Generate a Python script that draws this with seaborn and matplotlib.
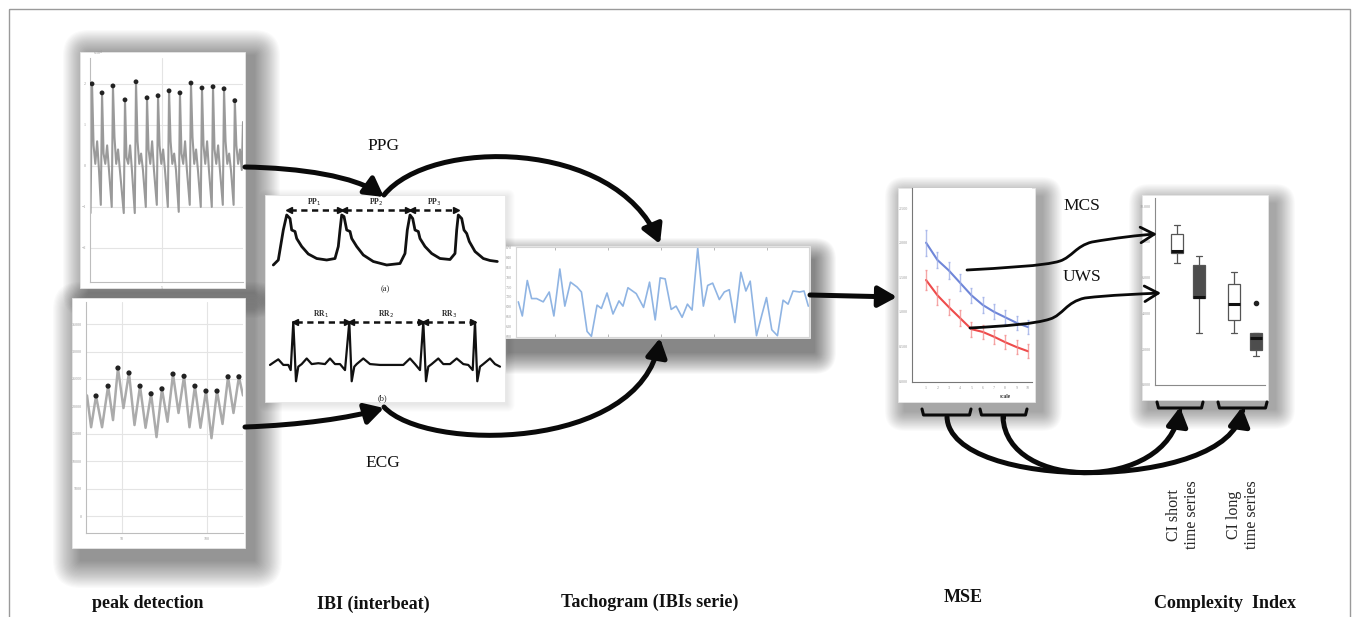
import numpy as np
import pandas as pd
import matplotlib
matplotlib.use("Agg")
import matplotlib.pyplot as plt
import seaborn as sns
from matplotlib.patches import Rectangle, FancyArrowPatch, FancyBboxPatch
from matplotlib.path import Path

W, H = 1358, 617

# ------------------------------------------------------------------ data
# Panel 1 (peak detection, PPG raw): detected peaks, notch levels, troughs
ppg_peak_t = [0.2, 1.18, 2.25, 3.43, 4.51, 5.59, 6.67, 7.75, 8.82, 9.9, 10.98, 12.06, 13.14, 14.2]
ppg_peak_v = [2.0, 1.78, 1.95, 1.61, 2.05, 1.66, 1.71, 1.83, 1.78, 2.02, 1.90, 1.93, 1.88, 1.59]
ppg_notch_v = [0.5, 0.3, 0.7, 0.2, 0.6, 0.4, 0.5, 0.6, 0.3, 0.7, 0.5, 0.4, 0.6, 0.5]
ppg_hump_v = [0.6, 0.5, 0.4, 0.5, 0.3, 0.6, 0.4, 0.3, 0.6, 0.4, 0.6, 0.5, 0.3, 0.4]
ppg_trough_v = [-1.15, -0.95, -1.0, -1.15, -1.15, -1.0, -0.95, -1.0, -1.12, -0.95, -1.0, -1.0, -0.95, -0.95]
ppg_end_v = 1.07

# Panel 2 (peak detection, second signal)
sig2_peak_x = [34.7, 41.8, 47.6, 54.1, 60.6, 67.1, 73.5, 80.0, 86.5, 92.9, 99.4, 105.9, 112.4, 118.8]
sig2_peak_v = [21900, 23700, 27000, 26100, 23700, 22300, 23200, 25900, 25500, 23700, 22800, 22800, 25400, 25400]
sig2_trough_v = [16200, 17500, 19700, 16600, 16100, 14400, 17200, 18800, 16200, 16100, 14200, 16800, 18800]
sig2_start_x = [29.4, 31.8]
sig2_start_v = [22000, 16200]
sig2_end_x = [121.2]
sig2_end_v = [22000]

# IBI schematic (a): PPG pulses
ibi_ppg_t = [13.3, 18.3, 23.3, 26.7, 30, 31.7, 35, 36.7, 41.7, 48.3, 56.7, 66.7, 75, 78.3, 80, 81.7,
             84, 86.7, 90, 91.7, 96.7, 103.3, 113.3, 126.7, 140, 145, 147.3, 150, 152.7, 155, 158.3,
             160, 165, 171.7, 180, 190, 195, 196.7, 198.3, 201.7, 204, 206.7, 209.3, 215, 223.3, 230, 237.3]
ibi_ppg_a = [0, 0.1, 0.7, 1.0, 0.93, 0.7, 0.67, 0.53, 0.37, 0.22, 0.13, 0.1, 0.13, 0.37, 0.7, 1.0,
             0.97, 0.7, 0.67, 0.53, 0.37, 0.2, 0.07, 0, 0.03, 0.23, 0.7, 1.0, 0.93, 0.7, 0.67,
             0.53, 0.37, 0.23, 0.13, 0.11, 0.23, 0.7, 1.0, 0.93, 0.7, 0.63, 0.47, 0.27, 0.13, 0.09, 0.07]
pp_peaks_t = [26.7, 81.7, 150, 198.3]
pp_labels = ["PP$_1$", "PP$_2$", "PP$_3$"]

# IBI schematic (b): ECG
ibi_ecg_t = [10, 15, 18.3, 23.3, 28.3, 30.7, 33.3, 36, 38.3, 41.7, 46.7, 51.7, 58.3, 65, 70, 75, 80,
             85, 89.3, 91.7, 94.3, 96.7, 103.3, 110, 120, 143.3, 150, 155, 160, 163.3, 166, 168.3,
             171.7, 178.3, 183.3, 190, 196.7, 203.3, 208.3, 212.7, 215, 217.3, 220, 223.3, 230, 235, 240]
ibi_ecg_a = [0, 0.08, 0.13, 0, 0, -0.12, 1.0, -0.38, -0.04, 0.02, 0.15, 0.02, 0.04, 0.02, 0.15, 0.02, 0.02,
             -0.12, 1.0, -0.38, -0.04, 0.02, 0.15, 0.02, 0, 0, 0.15, 0.02, -0.12, 1.0, -0.38, -0.04,
             0.02, 0.15, 0.02, 0.02, 0.15, 0.02, 0, -0.12, 1.0, -0.38, -0.04, 0.02, 0.15, 0.02, -0.04]
rr_peaks_t = [33.3, 89.3, 163.3, 215]
rr_labels = ["RR$_1$", "RR$_2$", "RR$_3$"]

# Tachogram (IBIs series)
tach_t = [8.5, 9.7, 11.2, 12.5, 14.0, 16.0, 17.8, 19.2, 21.0, 22.5, 24.2, 26.2, 27.5, 29.2, 30.5,
          32.2, 33.5, 35.2, 37.0, 38.8, 40.0, 41.5, 44.0, 46.2, 48.0, 49.7, 51.2, 52.7, 54.5, 56.0,
          57.8, 59.4, 60.8, 62.5, 64.2, 65.5, 67.0, 69.0, 70.5, 72.0, 73.7, 75.5, 77.0, 78.3, 80.2,
          81.8, 83.2, 84.8, 86.5, 88.2, 89.7, 91.2, 93.2, 94.5, 95.8]
tach_v = [105, 62, 170, 115, 115, 105, 135, 62, 205, 92, 165, 150, 135, 15, 0,
          95, 85, 132, 68, 108, 92, 148, 130, 88, 165, 50, 178, 175, 82, 92,
          58, 98, 80, 268, 92, 155, 162, 112, 135, 142, 42, 195, 138, 168, 2,
          65, 118, 20, 2, 110, 98, 138, 135, 138, 92]

# MSE
mse_scale = [1, 2, 3, 4, 5, 6, 7, 8, 9, 10]
mse_mcs = [2.0, 1.75, 1.60, 1.42, 1.24, 1.10, 1.00, 0.92, 0.84, 0.78]
mse_mcs_err = [0.19, 0.12, 0.12, 0.12, 0.11, 0.11, 0.11, 0.1, 0.1, 0.1]
mse_uws = [1.46, 1.24, 1.07, 0.91, 0.75, 0.71, 0.64, 0.56, 0.49, 0.43]
mse_uws_err = [0.15, 0.14, 0.12, 0.12, 0.11, 0.1, 0.1, 0.1, 0.1, 0.1]

# Complexity index boxplots
ci_mcs_short = [6.82, 7.37, 7.49, 8.44, 8.94]
ci_uws_short = [2.91, 4.86, 4.92, 6.70, 7.21]
ci_mcs_long = [2.91, 3.63, 4.53, 5.64, 6.31]
ci_uws_long = [1.62, 1.80, 1.96, 2.30, 2.63, 2.80, 2.91, 2.91, 4.58]

bottom_labels = ["peak detection", "IBI (interbeat)", "Tachogram (IBIs serie)", "MSE", "Complexity  Index"]

# ------------------------------------------------------------------ style
sns.set_style("white")
plt.rcParams["font.family"] = ["Liberation Serif", "DejaVu Serif"]

fig = plt.figure(figsize=(W / 100, H / 100), dpi=100)
fig.patch.set_facecolor("white")

bg = fig.add_axes([0, 0, 1, 1], zorder=0)
bg.set_xlim(0, W)
bg.set_ylim(H, 0)
bg.axis("off")

top = fig.add_axes([0, 0, 1, 1], zorder=10)
top.set_xlim(0, W)
top.set_ylim(H, 0)
top.axis("off")
top.patch.set_alpha(0)


def px_axes(x0, y0, x1, y1):
    a = fig.add_axes([x0 / W, 1 - y1 / H, (x1 - x0) / W, (y1 - y0) / H], zorder=3)
    a.set_facecolor("white")
    return a


def shadow(x0, y0, x1, y1, dx=6, dy=8, spread=16, alpha=0.45, n=24):
    for i in range(n):
        r = spread * (i + 1) / n
        bg.add_patch(FancyBboxPatch((x0 + dx - r, y0 + dy - r), (x1 - x0) + 2 * r, (y1 - y0) + 2 * r,
                                    boxstyle=f"round,pad=0,rounding_size={r}", fc="k", ec="none",
                                    alpha=alpha / n, zorder=1))


def panel(x0, y0, x1, y1, **kw):
    shadow(x0, y0, x1, y1, **kw)
    bg.add_patch(Rectangle((x0, y0), x1 - x0, y1 - y0, fc="white", ec="#e6e6e6", lw=0.6, zorder=2))


def tiny_axes(a, color="#bdbdbd"):
    for s in a.spines.values():
        s.set_color(color)
        s.set_linewidth(0.8)
    a.tick_params(labelsize=3, colors="#9a9a9a", length=2, width=0.5, pad=1)


# outer frame
bg.add_patch(Rectangle((8.5, 8.5), 1341, 620, fill=False, ec="#9a9a9a", lw=1.0, zorder=0.5))

# panels with shadows
panel(80, 52, 245, 288, dx=9, dy=4, spread=26, alpha=0.5)
panel(72, 298, 245, 548, dx=9, dy=12, spread=28, alpha=0.5)
panel(265, 195, 505, 402, dx=2, dy=2, spread=8, alpha=0.1)
panel(505, 246, 810, 338, dx=4, dy=14, spread=22, alpha=0.55)
panel(898, 188, 1035, 402, dx=7, dy=9, spread=20, alpha=0.38)
panel(1142, 195, 1268, 400, dx=7, dy=9, spread=20, alpha=0.38)

# ---------------------------------------------------------- panel 1
ax1 = px_axes(90, 58, 243, 282)
raw_t, raw_v = [ppg_peak_t[0] - 0.15], [ppg_trough_v[0]]
for i, (tp, vp) in enumerate(zip(ppg_peak_t, ppg_peak_v)):
    raw_t += [tp, tp + 0.15, tp + 0.32, tp + 0.5, tp + 0.68]
    raw_v += [vp, ppg_notch_v[i], 0.05, ppg_hump_v[i], -0.1]
    if i + 1 < len(ppg_peak_t):
        raw_t.append(ppg_peak_t[i + 1] - 0.12)
        raw_v.append(ppg_trough_v[i + 1])
raw_t.append(15.0)
raw_v.append(ppg_end_v)
sns.lineplot(x=raw_t, y=raw_v, sort=False, ax=ax1, color="#9a9a9a", lw=1.5)
sns.scatterplot(x=ppg_peak_t, y=ppg_peak_v, ax=ax1, color="#222222", s=12, edgecolor="none", zorder=5)
ax1.set_xlim(0, 15.0)
ax1.set_ylim(-2.83, 2.63)
ax1.set_yticks([-2, -1, 0, 1, 2])
ax1.set_xticks([7.06])
ax1.set_xticklabels(["5"])
ax1.grid(True, color="#e4e4e4", lw=0.8)
tiny_axes(ax1)
ax1.spines["top"].set_visible(False)
ax1.spines["right"].set_visible(False)
ax1.text(0.02, 1.0, "x10$^4$", transform=ax1.transAxes, fontsize=3, color="#999999", va="bottom")

# ---------------------------------------------------------- panel 2
ax2 = px_axes(86, 302, 243, 533)
s2x = list(sig2_start_x)
s2v = list(sig2_start_v)
for i, (px, pv) in enumerate(zip(sig2_peak_x, sig2_peak_v)):
    s2x.append(px)
    s2v.append(pv)
    if i + 1 < len(sig2_peak_x):
        s2x.append((px + sig2_peak_x[i + 1]) / 2)
        s2v.append(sig2_trough_v[i])
s2x += sig2_end_x
s2v += sig2_end_v
sns.lineplot(x=s2x, y=s2v, sort=False, ax=ax2, color="#ababab", lw=1.8)
sns.scatterplot(x=sig2_peak_x, y=sig2_peak_v, ax=ax2, color="#222222", s=14, edgecolor="none", zorder=5)
ax2.set_xlim(28.8, 121.2)
ax2.set_ylim(-3100, 39050)
ax2.set_yticks(range(0, 40000, 5000))
ax2.set_xticks([50, 100])
ax2.grid(True, color="#e4e4e4", lw=0.8)
tiny_axes(ax2)
ax2.spines["top"].set_visible(False)
ax2.spines["right"].set_visible(False)

# ---------------------------------------------------------- IBI schematic
axa = px_axes(265, 195, 505, 280)
sns.lineplot(x=ibi_ppg_t, y=ibi_ppg_a, sort=False, ax=axa, color="#111111", lw=2.0)
for i in range(3):
    t0, t1 = pp_peaks_t[i], pp_peaks_t[i + 1]
    axa.plot([t0 + 3, t1 - 3], [1.1, 1.1], ls=(0, (2.5, 1.8)), color="#111111", lw=1.8)
    axa.plot([t0 + 2], [1.1], marker="<", color="#111111", ms=4.5)
    axa.plot([t1 - 2], [1.1], marker=">", color="#111111", ms=4.5)
    axa.text((t0 + t1) / 2, 1.26, pp_labels[i], ha="center", va="center", fontsize=5.5, fontweight="bold")
axa.set_xlim(5, 245)
axa.set_ylim(-0.3, 1.4)
axa.axis("off")

axb = px_axes(265, 305, 505, 392)
sns.lineplot(x=ibi_ecg_t, y=ibi_ecg_a, sort=False, ax=axb, color="#111111", lw=1.6)
for i in range(3):
    t0, t1 = rr_peaks_t[i], rr_peaks_t[i + 1]
    axb.plot([t0 + 3, t1 - 3], [1.0, 1.0], ls=(0, (2.5, 1.8)), color="#111111", lw=1.8)
    axb.plot([t0 + 2], [1.0], marker="<", color="#111111", ms=4.5)
    axb.plot([t1 - 2], [1.0], marker=">", color="#111111", ms=4.5)
    axb.text((t0 + t1) / 2, 1.19, rr_labels[i], ha="center", va="center", fontsize=5.5, fontweight="bold")
axb.set_xlim(5, 245)
axb.set_ylim(-0.63, 1.395)
axb.axis("off")
for a in (axa, axb):
    a.patch.set_alpha(0)

bg.text(385, 289, "(a)", ha="center", va="center", fontsize=6, zorder=4)
bg.text(382, 398, "(b)", ha="center", va="center", fontsize=6, zorder=4)

# ---------------------------------------------------------- Tachogram
axt = px_axes(516, 247, 809, 337)
sns.lineplot(x=tach_t, y=tach_v, sort=False, ax=axt, color="#8fb4e3", lw=1.2)
axt.set_xlim(7.8, 96.0)
axt.set_ylim(-2, 272)
axt.set_xticks([19.5, 35.5, 51.5, 67.5, 83.5])
axt.set_xticklabels([])
axt.set_yticks(range(0, 271, 30))
axt.set_yticklabels([str(600 + v) for v in range(0, 271, 30)])
tiny_axes(axt, color="#d6d6d6")
axt.tick_params(axis="x", direction="in", top=True, bottom=True, length=2)

# ---------------------------------------------------------- MSE
axm = px_axes(912, 188, 1032, 382)
mse_df = pd.DataFrame({
    "scale": mse_scale * 2,
    "mse": mse_mcs + mse_uws,
    "group": ["MCS"] * 10 + ["UWS"] * 10,
})
mse_pal = {"MCS": "#6f86d8", "UWS": "#ee4b4b"}
sns.lineplot(data=mse_df, x="scale", y="mse", hue="group", palette=mse_pal, ax=axm, lw=1.5, legend=False)
axm.errorbar(mse_scale, mse_mcs, yerr=mse_mcs_err, fmt="none", ecolor="#9aabe6", elinewidth=1.0,
             capsize=1.0, alpha=0.75, linestyle=":")
axm.errorbar(mse_scale, mse_uws, yerr=mse_uws_err, fmt="none", ecolor="#f28a8a", elinewidth=1.0,
             capsize=1.0, alpha=0.75)
axm.set_xlim(-0.24, 10.35)
axm.set_ylim(-0.014, 2.79)
axm.set_xticks(mse_scale)
axm.set_yticks([0, 0.5, 1.0, 1.5, 2.0, 2.5])
axm.set_yticklabels([f"{v:.3f}" for v in [0, 0.5, 1.0, 1.5, 2.0, 2.5]])
axm.set_xlabel("")
axm.set_ylabel("")
tiny_axes(axm, color="#777777")
axm.spines["top"].set_visible(False)
axm.spines["right"].set_visible(False)
bg.text(1005, 397, "scale", ha="center", va="center", fontsize=4, fontweight="bold", color="#333333", zorder=4)

# ---------------------------------------------------------- Complexity index
axc = px_axes(1155, 198, 1265, 385)
ci_df = pd.DataFrame({
    "series": ["short"] * (len(ci_mcs_short) + len(ci_uws_short)) + ["long"] * (len(ci_mcs_long) + len(ci_uws_long)),
    "group": ["MCS"] * len(ci_mcs_short) + ["UWS"] * len(ci_uws_short) + ["MCS"] * len(ci_mcs_long) + ["UWS"] * len(ci_uws_long),
    "ci": ci_mcs_short + ci_uws_short + ci_mcs_long + ci_uws_long,
})
sns.boxplot(data=ci_df, x="series", y="ci", hue="group", order=["short", "long"],
            palette={"MCS": "white", "UWS": "#4d4d4d"}, width=0.75, gap=0.45, linecolor="#555555",
            linewidth=0.9, ax=axc, legend=False, fliersize=3,
            medianprops=dict(color="#111111", lw=2.2),
            flierprops=dict(marker="o", markerfacecolor="#222222", markeredgecolor="#222222"))
axc.set_xlim(-0.58, 1.35)
axc.set_ylim(0, 10.45)
axc.set_yticks([0, 2, 4, 6, 8, 10])
axc.set_yticklabels([f"{v:.3f}" for v in [0, 2, 4, 6, 8, 10]])
axc.set_xticklabels([])
axc.set_xlabel("")
axc.set_ylabel("")
tiny_axes(axc, color="#8a8a8a")
axc.tick_params(axis="x", length=2)
axc.spines["top"].set_visible(False)
axc.spines["right"].set_visible(False)

# ---------------------------------------------------------- arrows
def curve(verts, lw=3.6, style="-|>,head_length=0.8,head_width=0.45", ms=14):
    codes = [Path.MOVETO] + [Path.CURVE4] * (len(verts) - 1)
    p = FancyArrowPatch(path=Path(verts, codes), arrowstyle=style, mutation_scale=ms, lw=lw,
                        color="#0a0a0a", shrinkA=0, shrinkB=0, joinstyle="round", capstyle="round")
    top.add_patch(p)


curve([(245, 167), (300, 168), (355, 176), (384, 197)])
curve([(384, 195), (430, 138), (615, 138), (660, 244)])
curve([(245, 427), (300, 425), (350, 418), (384, 408)])
curve([(384, 407), (425, 452), (640, 452), (660, 338)])
curve([(810, 295), (835, 295.5), (870, 296.5), (897, 297)])

curve([(947, 417), (950, 492), (1230, 492), (1242, 407)])
curve([(1003, 417), (1006, 492), (1168, 492), (1180, 407)])

thin = "->,head_length=0.7,head_width=0.4"
curve([(967, 270), (1000, 268), (1045, 266), (1060, 261), (1072, 257), (1076, 246), (1092, 242),
       (1115, 238), (1140, 235), (1157, 234)], lw=2.0, style=thin, ms=14)
curve([(970, 328), (1005, 326), (1035, 324), (1050, 319), (1063, 315), (1066, 302), (1085, 298),
       (1110, 295), (1140, 294), (1161, 293)], lw=2.0, style=thin, ms=14)


def bracket(xa, xb, y, up=6):
    xm = (xa + xb) / 2
    top.plot([xa, xa + 1.5, xb - 1.5, xb], [y - up, y, y, y - up], color="#0a0a0a", lw=2.2,
             solid_joinstyle="round")
    top.plot([xm, xm], [y, y + 3], color="#0a0a0a", lw=2.2)


bracket(922, 971, 415)
bracket(980, 1027, 415)
bracket(1157, 1203, 408)
bracket(1218, 1267, 408)

# ---------------------------------------------------------- labels
lab = dict(ha="center", va="center", fontsize=12.5, color="#111111", zorder=11)
top.text(383, 146, "PPG", **lab)
top.text(383, 463, "ECG", **lab)
top.text(1082, 206, "MCS", **lab)
top.text(1082, 277, "UWS", **lab)

top.text(1183, 515, "CI short\ntime series", rotation=90, ha="center", va="center",
         fontsize=11.5, linespacing=1.15, multialignment="center")
top.text(1243, 515, "CI long\ntime series", rotation=90, ha="center", va="center",
         fontsize=11.5, linespacing=1.15, multialignment="center")

bx = [148, 373, 650, 963, 1225]
by = [604, 604, 602, 597, 603]
for x, y, t in zip(bx, by, bottom_labels):
    top.text(x, y, t, ha="center", va="center", fontsize=13, fontweight="bold", color="#111111")

fig.savefig("out.png", dpi=100, facecolor="white")
